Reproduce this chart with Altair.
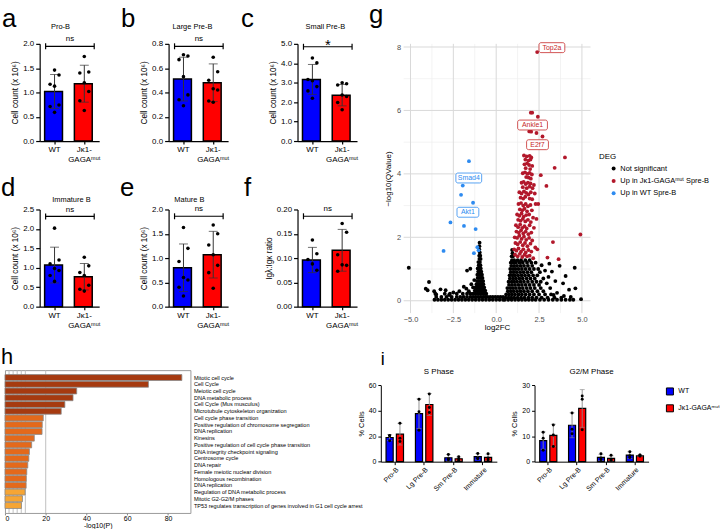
import altair as alt
import pandas as pd

FONT = "Liberation Sans"
BLUE = "#0000FF"
RED = "#FF0000"
INK = "#000000"
GENO = ["WT", "Jκ1-|GAGAᵐᵘᵗ"]

# ---------------- panels a-f (cell counts) ----------------
bp_letter = ["a", "b", "c", "d", "e", "f"]
bp_title = ["Pro-B", "Large Pre-B", "Small Pre-B", "Immature B", "Mature B", ""]
bp_ytitle = ["Cell count (x 10⁶)"] * 5 + ["Igλ:Igκ ratio"]
bp_yticks = [
    [0, 0.5, 1.0, 1.5, 2.0],
    [0, 0.2, 0.4, 0.6, 0.8],
    [0, 1, 2, 3, 4, 5],
    [0, 0.5, 1.0, 1.5, 2.0, 2.5],
    [0, 0.5, 1.0, 1.5, 2.0],
    [0, 0.05, 0.10, 0.15, 0.20],
]
bp_fmt = [".1f"] * 5 + [".2f"]
bp_sig = ["ns", "ns", "*", "ns", "ns", "ns"]
bp_bracket = [1.95, 0.78, 4.85, 2.32, 1.86, 0.186]
wt_mean = [1.02, 0.51, 3.17, 1.07, 0.80, 0.096]
wt_sd = [0.35, 0.18, 0.77, 0.46, 0.49, 0.026]
mut_mean = [1.18, 0.48, 2.36, 0.77, 1.07, 0.116]
mut_sd = [0.38, 0.155, 0.55, 0.34, 0.48, 0.043]
wt_pts = [
    [1.46, 1.36, 1.17, 1.13, 0.74, 0.71, 0.59],
    [0.71, 0.70, 0.67, 0.53, 0.38, 0.34, 0.29],
    [4.27, 4.02, 3.17, 3.10, 2.80, 2.58, 2.20],
    [2.02, 1.20, 1.10, 0.98, 0.93, 0.80, 0.65],
    [1.63, 1.20, 0.93, 0.60, 0.55, 0.40, 0.22],
    [0.137, 0.109, 0.097, 0.088, 0.075],
]
mut_pts = [
    [1.74, 1.42, 1.40, 1.20, 1.02, 0.83, 0.63],
    [0.69, 0.57, 0.50, 0.43, 0.42, 0.33, 0.32],
    [3.00, 2.95, 2.88, 2.37, 2.29, 1.98, 1.61],
    [1.27, 1.05, 0.88, 0.80, 0.55, 0.45, 0.40],
    [1.68, 1.50, 1.27, 1.07, 0.85, 0.70, 0.38],
    [0.171, 0.153, 0.107, 0.086, 0.085, 0.073],
]

# ---------------- panel g (volcano) ----------------
DEG = ["Not significant", "Up in Jκ1-GAGAᵐᵘᵗ Spre-B", "Up in WT Spre-B"]
ns_left_scatter = [(-5.10, 1.04), (-4.11, 0.38), (-4.00, 0.33), (-3.92, 0.59), (-3.62, 0.30),
                   (-3.25, 0.36), (-3.50, 0.20), (-2.95, 0.33), (-2.50, 0.26), (-2.15, 0.30),
                   (-1.89, 0.44), (-1.74, 0.38), (-1.70, 0.95), (-1.51, 1.01), (-1.28, 0.65),
                   (-1.45, 0.52), (-1.60, 0.30), (-2.75, 0.18), (-1.35, 0.42)]
ns_left_arm = [(-0.97, 1.83), (-0.98, 1.72), (-0.99, 1.62), (-0.96, 1.52), (-0.99, 1.42), (-0.93, 1.42),
               (-0.98, 1.32), (-0.91, 1.32), (-1.04, 1.22), (-0.95, 1.22), (-1.02, 1.12), (-0.92, 1.12),
               (-1.08, 1.02), (-0.98, 1.02), (-0.90, 1.02), (-1.05, 0.92), (-0.95, 0.92), (-0.87, 0.92),
               (-1.10, 0.82), (-1.00, 0.82), (-0.90, 0.82), (-0.83, 0.82), (-1.08, 0.72), (-0.97, 0.72),
               (-0.87, 0.72), (-0.80, 0.72), (-1.12, 0.62), (-1.02, 0.62), (-0.92, 0.62), (-0.82, 0.62),
               (-0.76, 0.62), (-1.15, 0.52), (-1.05, 0.52), (-0.95, 0.52), (-0.85, 0.52), (-0.75, 0.52),
               (-1.20, 0.42), (-1.08, 0.42), (-0.97, 0.42), (-0.87, 0.42), (-0.77, 0.42), (-0.70, 0.42),
               (-1.25, 0.32), (-1.12, 0.32), (-1.00, 0.32), (-0.90, 0.32), (-0.80, 0.32), (-0.70, 0.32),
               (-0.64, 0.32)]
ns_band_rows = [
    (0.22, [-3.55, -3.0, -2.7, -2.3, -1.95, -1.7, -1.5, -1.35, -1.22, -1.10, -0.98, -0.86, -0.75, -0.65, -0.58]),
    (0.12, [-3.5, -3.2, -2.9, -2.6, -2.3, -2.1, -1.9, -1.7, -1.5, -1.35, -1.2, -1.05, -0.9, -0.75, -0.62,
            -0.5, -0.35, -0.2, -0.05, 0.1, 0.25, 0.4]),
    (0.03, [-3.6, -3.4, -3.2, -3.0, -2.8, -2.6, -2.4, -2.2, -2.0, -1.8, -1.6, -1.4, -1.2, -1.0, -0.8, -0.6,
            -0.4, -0.2, 0.0, 0.2, 0.4]),
]
ns_right_rows = [
    (1.60, [0.93]),
    (1.50, [0.95]),
    (1.40, [0.90, 0.98]),
    (1.28, [0.92, 1.05, 1.25, 1.45, 1.70, 1.95]),
    (1.20, [0.85, 1.00, 1.15, 1.35, 1.55, 1.80, 2.05, 2.30]),
    (1.10, [0.88, 1.05, 1.22, 1.42, 1.62, 1.85, 2.10]),
    (1.00, [0.82, 0.98, 1.12, 1.30, 1.50, 1.72, 1.95, 2.20, 2.45]),
    (0.90, [0.85, 1.02, 1.20, 1.40, 1.60, 1.82, 2.05]),
    (0.80, [0.78, 0.95, 1.10, 1.28, 1.48, 1.68, 1.90, 2.15, 2.40]),
    (0.70, [0.80, 0.98, 1.15, 1.35, 1.55, 1.78, 2.00, 2.25]),
    (0.60, [0.72, 0.90, 1.05, 1.22, 1.42, 1.62, 1.85, 2.10, 2.35]),
    (0.50, [0.75, 0.92, 1.10, 1.30, 1.50, 1.72, 1.95, 2.20, 2.50]),
    (0.40, [0.65, 0.82, 0.98, 1.15, 1.35, 1.55, 1.78, 2.00, 2.25, 2.60]),
    (0.30, [0.68, 0.85, 1.02, 1.22, 1.42, 1.62, 1.85, 2.10, 2.40, 2.75]),
    (0.20, [0.58, 0.75, 0.92, 1.10, 1.30, 1.50, 1.72, 1.95, 2.20, 2.50, 2.85, 3.20]),
    (0.10, [0.55, 0.72, 0.88, 1.05, 1.25, 1.45, 1.65, 1.88, 2.10, 2.35, 2.65, 3.00, 3.40, 3.80]),
    (0.03, [0.50, 0.70, 0.90, 1.10, 1.30, 1.50, 1.70, 1.90, 2.10, 2.30, 2.55, 2.80, 3.05, 3.30, 3.55,
            3.80, 4.05, 4.30, 4.50]),
]
ns_right_scatter = [(2.65, 1.12), (2.85, 0.95), (3.05, 0.75), (3.25, 0.92), (3.45, 0.62), (3.70, 1.10),
                    (3.90, 0.55), (4.05, 0.78), (4.25, 0.35), (4.58, 1.04), (4.62, 0.39), (4.95, 0.05),
                    (3.15, 0.40), (3.55, 0.25), (2.95, 0.55), (2.75, 0.70), (3.35, 0.18), (3.95, 0.15),
                    (4.35, 0.12), (2.60, 0.60), (2.55, 0.90), (3.10, 1.17)]
up_mut_pts = [
    (2.39, 7.84), (2.02, 5.93), (2.10, 5.93), (2.43, 5.80), (1.93, 5.34), (2.04, 5.33), (2.35, 5.29), (2.70, 5.18),
    (4.01, 4.52), (3.41, 4.19), (2.60, 3.96), (2.93, 3.62), (4.91, 2.09), (3.31, 1.85), (2.99, 1.36), (3.64, 1.31),
    (2.16, 1.34), (2.35, 2.58), (2.45, 3.05), (2.40, 1.62),
    (1.62, 4.58), (1.78, 4.55), (1.95, 4.57), (2.05, 4.52), (1.70, 4.45), (1.88, 4.42), (2.00, 4.45),
    (1.65, 4.30), (1.80, 4.33), (1.92, 4.28), (2.10, 4.25), (1.72, 4.18), (1.98, 4.15),
    (1.55, 4.02), (1.68, 4.05), (1.82, 4.00), (1.95, 4.03), (2.08, 3.98), (1.75, 3.90), (1.90, 3.88), (2.02, 3.85),
    (1.48, 3.72), (1.60, 3.75), (1.72, 3.68), (1.85, 3.72), (2.00, 3.70), (2.20, 3.65), (1.55, 3.58), (1.78, 3.55),
    (1.95, 3.60), (2.12, 3.55),
    (1.35, 3.42), (1.48, 3.38), (1.62, 3.45), (1.75, 3.40), (1.88, 3.35), (2.02, 3.42), (2.25, 3.38), (1.42, 3.25),
    (1.58, 3.22), (1.70, 3.28), (1.95, 3.22), (2.10, 3.20),
    (1.30, 3.05), (1.45, 3.08), (1.58, 3.00), (1.72, 3.05), (1.85, 2.98), (2.00, 3.02), (2.30, 3.05), (1.38, 2.88),
    (1.52, 2.85), (1.65, 2.90), (1.80, 2.82), (2.08, 2.85),
    (1.22, 2.72), (1.35, 2.68), (1.48, 2.75), (1.60, 2.65), (1.75, 2.70), (1.92, 2.72), (2.15, 2.62), (1.28, 2.55),
    (1.42, 2.52), (1.55, 2.58), (1.70, 2.50), (1.85, 2.55), (2.02, 2.48),
    (1.15, 2.38), (1.28, 2.32), (1.40, 2.40), (1.52, 2.30), (1.65, 2.35), (1.78, 2.28), (1.95, 2.38), (2.20, 2.30),
    (1.18, 2.18), (1.32, 2.15), (1.45, 2.22), (1.58, 2.12), (1.72, 2.18), (1.88, 2.10), (2.05, 2.15),
    (1.08, 2.00), (1.22, 1.98), (1.35, 2.05), (1.48, 1.95), (1.62, 2.02), (1.75, 1.92), (1.92, 1.98), (2.10, 1.90),
    (1.12, 1.82), (1.25, 1.78), (1.40, 1.85), (1.55, 1.75), (1.68, 1.82), (1.82, 1.72), (2.00, 1.80),
    (1.05, 1.62), (1.18, 1.58), (1.30, 1.65), (1.45, 1.55), (1.58, 1.62), (1.72, 1.52), (1.88, 1.60), (2.05, 1.55),
    (2.28, 1.68), (1.10, 1.45), (1.25, 1.40), (1.38, 1.48), (1.52, 1.38), (1.65, 1.45), (1.80, 1.40), (1.95, 1.42),
]
up_wt_pts = [(-1.59, 4.40), (-1.95, 3.63), (-2.05, 3.34), (-1.35, 3.09), (-2.67, 2.47), (-1.88, 2.36),
             (-1.20, 2.26), (-3.07, 1.57), (-1.10, 1.69), (-1.03, 1.59), (-1.30, 1.50)]
gene_label = ["Top2a", "Ankle1", "E2f7", "Smad4", "Akt1"]
gene_label_x = [3.25, 2.12, 2.41, -1.60, -1.65]
gene_label_y = [7.98, 5.54, 4.92, 3.87, 2.79]
gene_label_dir = ["up", "up", "up", "down", "down"]
v_major_x = [-5, -2.5, 0, 2.5, 5]
v_minor_x = [-3.75, -1.25, 1.25, 3.75]
v_major_y = [0, 2, 4, 6, 8]
v_minor_y = [1, 3, 5, 7]

# ---------------- panel h (enrichment) ----------------
h_terms = ["Mitotic cell cycle", "Cell Cycle", "Meiotic cell cycle", "DNA metabolic process",
           "Cell Cycle (Mus musculus)", "Microtubule cytoskeleton organization", "Cell cycle phase transition",
           "Positive regulation of chromosome segregation", "DNA replication", "Kinesins",
           "Positive regulation of cell cycle phase transition", "DNA integrity checkpoint signaling",
           "Centrosome cycle", "DNA repair", "Female meiotic nuclear division", "Homologous recombination",
           "DNA replication", "Regulation of DNA metabolic process", "Mitotic G2-G2/M phases",
           "TP53 regulates transcription of genes involved in G1 cell cycle arrest"]
h_vals = [86.8, 70.4, 35.2, 33.4, 29.4, 27.6, 18.8, 18.3, 18.2, 14.4, 13.1, 12.0, 11.7, 11.2, 10.7, 10.5,
          10.4, 9.9, 8.6, 8.1]
h_ticks = [0, 20, 40, 60, 80]
h_gridlines = [2, 4, 6, 8, 10, 20]

# ---------------- panel i (cell cycle) ----------------
I_GROUPS = ["Pro-B", "Lg Pre-B", "Sm Pre-B", "Immature"]
s_wt_mean = [19.0, 37.7, 3.1, 3.9]
s_wt_sd = [2.4, 11.7, 2.6, 2.4]
s_mut_mean = [21.6, 44.9, 2.3, 3.4]
s_mut_sd = [8.5, 8.6, 1.4, 2.5]
s_wt_pts = [[20.5, 20.3, 16.5], [49.0, 39.2, 24.7], [5.7, 2.3, 1.5], [6.5, 2.9, 2.3]]
s_mut_pts = [[30.1, 18.4, 15.8], [53.2, 42.6, 38.7], [3.8, 2.2, 1.0], [6.2, 2.9, 1.3]]
g_wt_mean = [8.3, 14.3, 1.7, 2.6]
g_wt_sd = [3.4, 4.9, 1.2, 1.3]
g_mut_mean = [10.3, 20.9, 1.3, 2.3]
g_mut_sd = [4.4, 7.4, 1.0, 0.3]
g_wt_pts = [[11.6, 9.2, 4.5], [19.1, 12.7, 11.0], [3.1, 1.4, 0.8], [3.9, 2.3, 1.6]]
g_mut_pts = [[14.4, 10.5, 6.0], [25.8, 24.5, 12.5], [2.5, 1.0, 0.6], [2.6, 2.5, 2.1]]

# ---------------- layout constants ----------------
BP_W = 60
BP_H = [98, 98, 98, 98, 98, 98]
ROW_GAP = 69
BP_LETTER_XY = [(-38, -17), (-48, -17), (-57, -17), (-39, -14), (-49, -14), (-54, -14)]
BP_TITLE_XY = [(21, -17), (24, -17), (28, -17), (32, -9.5), (21, -9.5), (30, -9.5)]
V_W, V_H, V_CELL_H = 188.4, 271.5, 98
H_W, H_H = 187, 144
S_W, G_W, I_TOP, I_H = 117, 115, 15.3, 77
V_MAJOR = "#D9D9D9"
V_MINOR = "#EDEDED"
TICKS_ALL = 20  # large tickCount so that every listed tick value is kept


def one_row():
    return pd.DataFrame({"z": [0]})


def spacer(w, h):
    return alt.Chart(one_row()).mark_point(opacity=0, size=1).encode(
        x=alt.value(0), y=alt.value(0)).properties(width=w, height=h)


def ghost(x, y):
    # invisible 1px rule used only to pin the layout bounds
    return alt.Chart(one_row()).mark_rule(opacity=0, strokeWidth=0.01).encode(
        x=alt.value(x), x2=alt.value(x + 1), y=alt.value(y))


def text_at(txt, x, y, size, align="left", baseline="alphabetic"):
    return alt.Chart(one_row()).mark_text(
        fontSize=size, align=align, baseline=baseline, color=INK
    ).encode(x=alt.value(x), y=alt.value(y), text=alt.value(txt))


def bar_panel(i, anchor=False):
    summ = pd.DataFrame({"g": GENO, "m": [wt_mean[i], mut_mean[i]], "sd": [wt_sd[i], mut_sd[i]]})
    summ["lo"] = summ["m"] - summ["sd"]
    summ["hi"] = summ["m"] + summ["sd"]
    pts = pd.DataFrame({"g": [GENO[0]] * len(wt_pts[i]) + [GENO[1]] * len(mut_pts[i]),
                        "v": wt_pts[i] + mut_pts[i]})
    ann = pd.DataFrame({"b": [bp_bracket[i]]})
    yt = bp_yticks[i]
    xs = alt.X("g:N", sort=GENO, scale=alt.Scale(domain=GENO, paddingInner=1 / 3, paddingOuter=1 / 6),
               axis=alt.Axis(title=None, labelAngle=0, labelExpr="split(datum.label, '|')",
                             labelFontSize=8, labelLineHeight=10, labelPadding=2, tickSize=3,
                             tickWidth=1.2, domainWidth=1.2, domainColor=INK, tickColor=INK,
                             labelColor=INK, labelBaseline="top"))
    ysc = alt.Scale(domain=[0, yt[-1]], nice=False, zero=True)
    yax = alt.Axis(title=bp_ytitle[i], values=yt, tickCount=TICKS_ALL, format=bp_fmt[i], grid=False,
                   labelFontSize=8, labelOverlap=False,
                   titleFontSize=8.3, titleFontWeight="normal", tickSize=4, tickWidth=1.2,
                   domainWidth=1.2, labelPadding=2, titlePadding=3, domainColor=INK, tickColor=INK,
                   labelColor=INK, titleColor=INK)
    xg = alt.X("g:N", sort=GENO)
    bars = alt.Chart(summ).mark_bar(stroke=INK, strokeWidth=1.5).encode(
        x=xs, y=alt.Y("m:Q", scale=ysc, axis=yax),
        color=alt.Color("g:N", scale=alt.Scale(domain=GENO, range=[BLUE, RED]), legend=None))
    err = alt.Chart(summ).mark_rule(color="#333333", strokeWidth=1).encode(x=xg, y="lo:Q", y2="hi:Q")
    caps = alt.Chart(summ).transform_fold(["lo", "hi"], as_=["k", "c"]).mark_tick(
        color="#333333", thickness=1, size=9).encode(x=xg, y="c:Q")
    dots = alt.Chart(pts).transform_window(r="row_number()", groupby=["g"]).transform_calculate(
        j="(datum.r % 3) - 1").mark_circle(color=INK, size=13, opacity=1).encode(
        x=xg, xOffset=alt.XOffset("j:Q", scale=alt.Scale(domain=[-1, 1], range=[5.5, 14.5])), y="v:Q")
    br = alt.Chart(ann).mark_rule(color=INK, strokeWidth=1.2).encode(
        x=alt.value(6), x2=alt.value(55), y="b:Q")
    brl = alt.Chart(ann).mark_point(shape="M0,-1L0,1", size=36, filled=False, color=INK,
                                    strokeWidth=1.2, opacity=1).encode(x=alt.value(6), y="b:Q")
    brr = alt.Chart(ann).mark_point(shape="M0,-1L0,1", size=36, filled=False, color=INK,
                                    strokeWidth=1.2, opacity=1).encode(x=alt.value(55), y="b:Q")
    if bp_sig[i] == "*":
        sig = alt.Chart(ann).mark_text(fontSize=15, dy=-2, baseline="middle", color=INK).encode(
            x=alt.value(30.5), y="b:Q", text=alt.value("*"))
    else:
        sig = alt.Chart(ann).mark_text(fontSize=8, dy=-7, baseline="middle", color=INK).encode(
            x=alt.value(30.5), y="b:Q", text=alt.value(bp_sig[i]))
    lx, ly = BP_LETTER_XY[i]
    tx, ty = BP_TITLE_XY[i]
    layers = [bars, err, caps, dots, br, brl, brr, sig, text_at(bp_letter[i], lx, ly, 26)]
    if bp_title[i]:
        layers.append(text_at(bp_title[i], tx, ty, 7.5, align="center", baseline="middle"))
    if anchor:
        layers.append(ghost(-39, -40))
    return alt.layer(*layers).properties(width=BP_W, height=BP_H[i])


def volcano():
    rows = []
    for x, y in ns_left_scatter + ns_left_arm + ns_right_scatter:
        rows.append((x, y, DEG[0]))
    for y, xs in ns_band_rows + ns_right_rows:
        for x in xs:
            rows.append((x, y, DEG[0]))
    for x, y in up_mut_pts:
        rows.append((x, y, DEG[1]))
    for x, y in up_wt_pts:
        rows.append((x, y, DEG[2]))
    df = pd.DataFrame(rows, columns=["x", "y", "deg"])
    xdom, ydom = [-5.4, 5.5], [-0.39, 8.10]
    vx = alt.Scale(domain=xdom, nice=False, zero=False)
    # the plotted panel is taller than the layout cell; the y range is set explicitly
    vy = alt.Scale(domain=ydom, nice=False, zero=False, range=[V_H, 0])
    xax = alt.Axis(values=v_major_x, tickCount=TICKS_ALL, format=".1f", title="log2FC", ticks=False,
                   domain=False, grid=False, labelFontSize=7.5, labelColor="#4D4D4D", titleFontSize=8,
                   titleFontWeight="normal", titleColor=INK, labelPadding=2, titlePadding=1,
                   offset=V_H - V_CELL_H, labelOverlap=False)
    yax = alt.Axis(values=v_major_y, tickCount=TICKS_ALL, format="d", title="−log10(QValue)", ticks=False,
                   domain=False, grid=False, labelFontSize=7.5, labelColor="#4D4D4D", labelOverlap=False,
                   titleFontSize=8, titleFontWeight="normal", titleColor=INK, labelPadding=3,
                   titlePadding=4, titleY=V_H / 2)
    gx_minor = pd.DataFrame({"gx": v_minor_x, "lo": ydom[0], "hi": ydom[1]})
    gx_major = pd.DataFrame({"gx": v_major_x, "lo": ydom[0], "hi": ydom[1]})
    gy_minor = pd.DataFrame({"gy": v_minor_y, "lo": xdom[0], "hi": xdom[1]})
    gy_major = pd.DataFrame({"gy": v_major_y, "lo": xdom[0], "hi": xdom[1]})
    minor_x = alt.Chart(gx_minor).mark_rule(color=V_MINOR, strokeWidth=0.7).encode(
        x=alt.X("gx:Q", scale=vx, axis=xax), y=alt.Y("lo:Q", scale=vy, axis=yax), y2="hi:Q")
    minor_y = alt.Chart(gy_minor).mark_rule(color=V_MINOR, strokeWidth=0.7).encode(
        y="gy:Q", x="lo:Q", x2="hi:Q")
    major_x = alt.Chart(gx_major).mark_rule(color=V_MAJOR, strokeWidth=1).encode(
        x="gx:Q", y="lo:Q", y2="hi:Q")
    major_y = alt.Chart(gy_major).mark_rule(color=V_MAJOR, strokeWidth=1).encode(
        y="gy:Q", x="lo:Q", x2="hi:Q")
    pts = alt.Chart(df).mark_circle(size=15, opacity=1).encode(
        x=alt.X("x:Q", scale=vx, axis=xax), y=alt.Y("y:Q", scale=vy, axis=yax),
        color=alt.Color("deg:N", scale=alt.Scale(domain=DEG, range=["#000000", "#B2182B", "#2E8BF0"]),
                        legend=alt.Legend(title="DEG", orient="none", legendX=197, legendY=110,
                                          titleFontSize=8, titleFontWeight="normal", titleColor=INK,
                                          labelFontSize=7.5, labelColor=INK, symbolType="circle",
                                          symbolSize=16, symbolStrokeWidth=0, rowPadding=3.5,
                                          titlePadding=4, symbolOffset=11, labelOffset=3, labelLimit=300)))
    px_x = V_W / (xdom[1] - xdom[0])
    px_y = V_H / (ydom[1] - ydom[0])
    lab = pd.DataFrame({"t": gene_label, "x": gene_label_x, "y": gene_label_y, "d": gene_label_dir})
    lab["x1"] = lab["x"] - (lab["t"].str.len() * 4.0 + 6) / 2 / px_x
    lab["x2"] = lab["x"] + (lab["t"].str.len() * 4.0 + 6) / 2 / px_x
    lab["y1"] = lab["y"] - 5 / px_y
    lab["y2"] = lab["y"] + 5 / px_y
    layers = [minor_x, minor_y, major_x, major_y, pts]
    for d, col in (("up", "#C62828"), ("down", "#2E8BF0")):
        base = alt.Chart(lab).transform_filter(alt.datum.d == d)
        layers.append(base.mark_rect(fill="white", stroke=col, strokeWidth=0.8, cornerRadius=2).encode(
            x="x1:Q", x2="x2:Q", y="y1:Q", y2="y2:Q"))
        layers.append(base.mark_text(fontSize=7, color=col, baseline="middle").encode(
            x="x:Q", y="y:Q", text="t:N"))
    layers.append(text_at("g", -35, -21, 26))
    layers.append(ghost(0, 295))
    return alt.layer(*layers).properties(width=V_W, height=V_CELL_H)


def enrichment():
    df = pd.DataFrame({"k": [f"{n:02d}|{t}" for n, t in enumerate(h_terms)], "v": h_vals})
    keys = list(df["k"])
    bars = alt.Chart(df).mark_bar(stroke="#8A8A8A", strokeWidth=0.8).encode(
        x=alt.X("v:Q", scale=alt.Scale(domain=[0, 91], nice=False),
                axis=alt.Axis(values=h_ticks, tickCount=TICKS_ALL, title="-log10(P)", grid=False,
                              domain=False, tickSize=2, tickColor="#888888", labelFontSize=7,
                              titleFontSize=7, titleFontWeight="normal", labelPadding=0, titlePadding=0,
                              labelColor=INK, titleColor=INK)),
        y=alt.Y("k:N", sort=keys, scale=alt.Scale(paddingInner=0.12, paddingOuter=0.66),
                axis=alt.Axis(orient="right", title=None, ticks=False, domain=False, labelFontSize=5.6,
                              labelLimit=400, labelPadding=3, labelColor=INK,
                              labelExpr="split(datum.label, '|')[1]")),
        color=alt.Color("v:Q", scale=alt.Scale(type="threshold", domain=[10, 20],
                                               range=["#F6A534", "#E4691B", "#A63A10"]), legend=None))
    grid = alt.Chart(pd.DataFrame({"gx": h_gridlines})).mark_rule(color="#B8B8B8", strokeWidth=0.9).encode(
        x="gx:Q")
    return alt.layer(grid, bars, text_at("h", -4, -6, 22), ghost(0, -33)).properties(
        width=H_W, height=H_H, view=alt.ViewBackground(stroke="#9A9A9A", strokeWidth=1))


def phase_panel(title, wm, ws, mm, ms, wp, mp, yvals, width, legend, letter):
    rows, prow = [], []
    for k, grp in enumerate(I_GROUPS):
        rows.append({"grp": grp, "g": GENO[0], "m": wm[k], "sd": ws[k]})
        rows.append({"grp": grp, "g": GENO[1], "m": mm[k], "sd": ms[k]})
        for v in wp[k]:
            prow.append({"grp": grp, "g": GENO[0], "v": v})
        for v in mp[k]:
            prow.append({"grp": grp, "g": GENO[1], "v": v})
    df = pd.DataFrame(rows)
    df["lo"] = (df["m"] - df["sd"]).clip(lower=0)
    df["hi"] = df["m"] + df["sd"]
    pdf = pd.DataFrame(prow)
    cell_h = I_TOP + I_H
    x = alt.X("grp:N", sort=I_GROUPS,
              scale=alt.Scale(domain=I_GROUPS, paddingInner=0.406, paddingOuter=0.178),
              axis=alt.Axis(title=None, labelAngle=-45, labelFontSize=7, tickSize=3, domainColor=INK,
                            tickColor=INK, labelColor=INK, labelPadding=1))
    xo = alt.XOffset("g:N", sort=GENO, scale=alt.Scale(domain=GENO, paddingInner=0.31, paddingOuter=0))
    xg = alt.X("grp:N", sort=I_GROUPS)
    yax = alt.Axis(title="% Cells", values=yvals, tickCount=TICKS_ALL, grid=False, labelFontSize=7,
                   labelOverlap=False, titleFontSize=7.5,
                   titleFontWeight="normal", tickSize=3, domainColor=INK, tickColor=INK, labelColor=INK,
                   titleColor=INK, labelPadding=2, titlePadding=3, titleY=I_TOP + I_H / 2)
    if legend:
        leg = alt.Legend(title=None, orient="none", legendX=132, legendY=17, symbolType="square",
                         symbolSize=50, symbolStrokeColor=INK, symbolStrokeWidth=1, labelFontSize=7,
                         labelColor=INK, rowPadding=4, labelOffset=4,
                         labelExpr="replace(datum.label, '|', '')")
    else:
        leg = None
    bars = alt.Chart(df).mark_bar(stroke=INK, strokeWidth=1.2).encode(
        x=x, xOffset=xo,
        y=alt.Y("m:Q", scale=alt.Scale(domain=[0, yvals[-1]], nice=False, range=[cell_h, I_TOP]), axis=yax),
        color=alt.Color("g:N", scale=alt.Scale(domain=GENO, range=[BLUE, RED]), legend=leg))
    err = alt.Chart(df).mark_rule(color="#888888", strokeWidth=0.9).encode(x=xg, xOffset=xo, y="lo:Q", y2="hi:Q")
    caps = alt.Chart(df).transform_fold(["lo", "hi"], as_=["k", "c"]).mark_tick(
        color="#888888", thickness=0.9, size=5).encode(x=xg, xOffset=xo, y="c:Q")
    dots = alt.Chart(pdf).mark_circle(color=INK, size=9, opacity=1).encode(x=xg, xOffset=xo, y="v:Q")
    layers = [bars, err, caps, dots, text_at(title, width / 2, 2, 8, align="center", baseline="middle")]
    if letter:
        layers.append(text_at(letter, 0, -5, 18))
    return alt.layer(*layers).properties(width=width, height=cell_h)


A = bar_panel(0, anchor=True)
B = bar_panel(1)
C = bar_panel(2)
D = bar_panel(3)
E = bar_panel(4)
F = bar_panel(5)
V = volcano()
Hc = enrichment()
S = phase_panel("S Phase", s_wt_mean, s_wt_sd, s_mut_mean, s_mut_sd, s_wt_pts, s_mut_pts,
                [0, 20, 40, 60], S_W, False, "i")
G = phase_panel("G2/M Phase", g_wt_mean, g_wt_sd, g_mut_mean, g_mut_sd, g_wt_pts, g_mut_pts,
                [0, 10, 20, 30], G_W, True, None)

RES = dict(x="independent", y="independent", color="independent", xOffset="independent")

top_cells = [
    spacer(35, 1), A, spacer(70, 1), B, spacer(70, 1), C, spacer(47, 1), V,
    spacer(1, ROW_GAP), spacer(1, 1), spacer(1, 1), spacer(1, 1), spacer(1, 1), spacer(1, 1), spacer(1, 1),
    spacer(1, 1),
    spacer(35, 1), D, spacer(70, 1), E, spacer(70, 1), F, spacer(47, 1), spacer(1, 1),
]
top = alt.concat(*top_cells, columns=8, spacing=0, bounds="flush").resolve_scale(**RES)
bottom = alt.hconcat(Hc, spacer(192, 1), S, spacer(37.7, 1), G, spacing=0, bounds="flush").resolve_scale(**RES)

chart = alt.vconcat(top, bottom, spacing=0, padding=0).resolve_scale(**RES).configure(
    font=FONT).configure_view(stroke=None)

chart.save("out.html", embed_options={"renderer": "svg", "actions": False})
